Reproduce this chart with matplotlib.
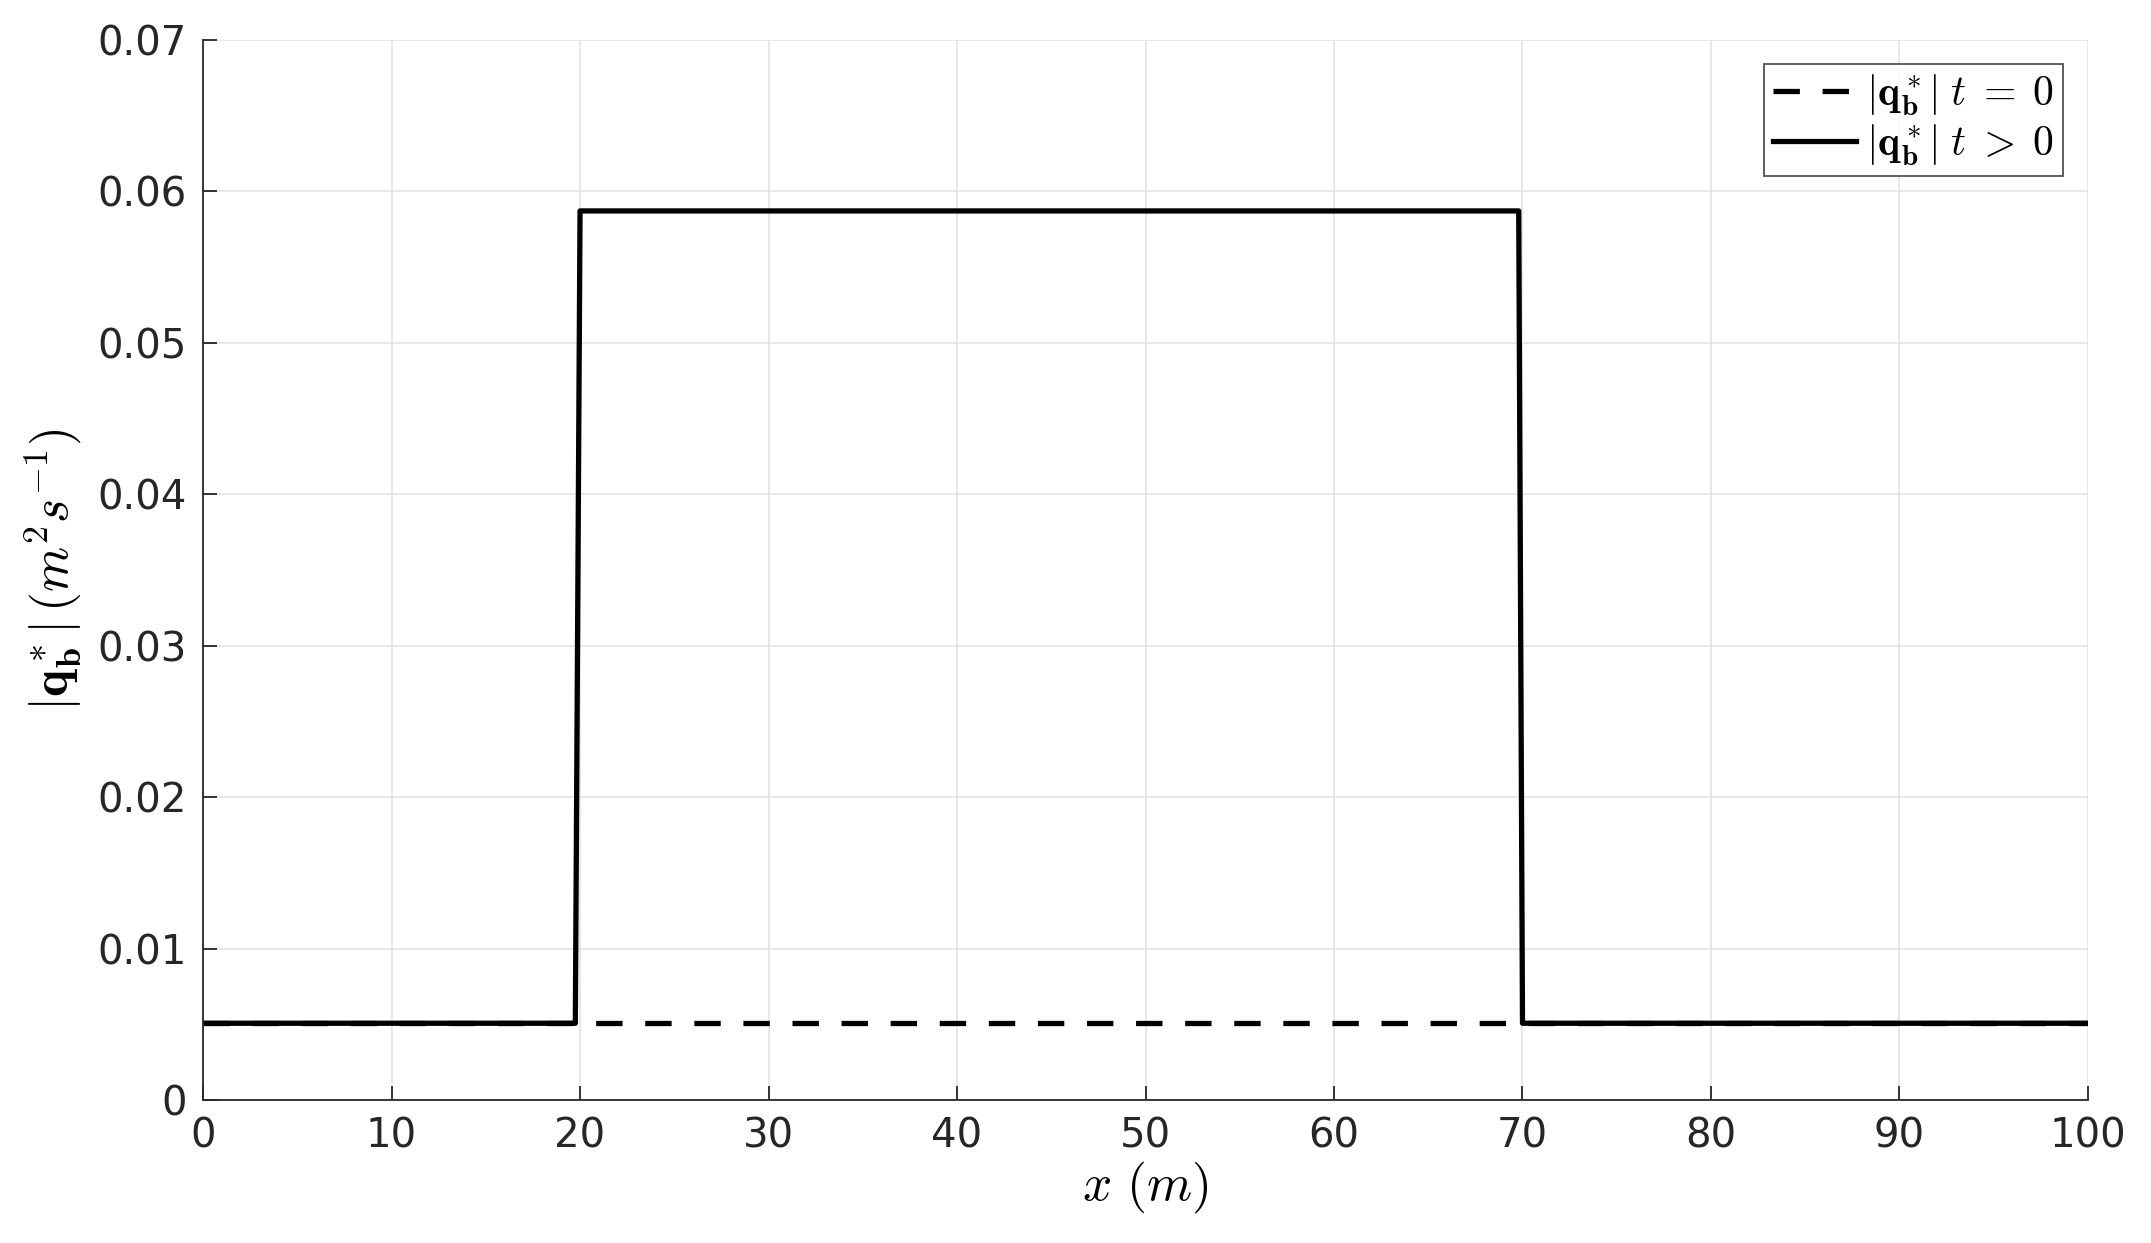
import matplotlib
matplotlib.use("Agg")
import matplotlib.pyplot as plt

# data
x_initial = [0, 100]
q_initial = [0.00507, 0.00507]

x_later = [0, 19.75, 20.0, 69.8, 70.0, 100]
q_later = [0.00507, 0.00507, 0.0587, 0.0587, 0.00507, 0.00507]

x_ticks = list(range(0, 101, 10))
y_ticks = [0, 0.01, 0.02, 0.03, 0.04, 0.05, 0.06, 0.07]
y_tick_labels = ["0", "0.01", "0.02", "0.03", "0.04", "0.05", "0.06", "0.07"]

plt.rcParams["mathtext.fontset"] = "cm"
plt.rcParams["font.family"] = ["DejaVu Sans"]

fig = plt.figure(figsize=(21.51, 12.43), dpi=100)
ax = fig.add_axes([0.0944, 0.115, 0.8763, 0.853])

ax.plot(x_initial, q_initial, color="black", lw=3.8, linestyle=(0, (5, 4.3)),
        label=r"$|\mathbf{q}^*_\mathbf{b}|\;t\;=\;0$")
ax.plot(x_later, q_later, color="black", lw=3.8,
        label=r"$|\mathbf{q}^*_\mathbf{b}|\;t\;>\;0$")

ax.set_xlim(0, 100)
ax.set_ylim(0, 0.07)
ax.set_xticks(x_ticks)
ax.set_yticks(y_ticks)
ax.set_yticklabels(y_tick_labels)

ax.grid(True, color="#e3e3e3", lw=1.2)
ax.set_axisbelow(True)
for side in ["top", "right"]:
    ax.spines[side].set_visible(False)
for side in ["left", "bottom"]:
    ax.spines[side].set_color("#262626")
    ax.spines[side].set_linewidth(1.3)
ax.tick_params(direction="in", length=10, width=1.3, colors="#262626",
               labelsize=29, pad=12)

ax.set_xlabel(r"$x\ (m)$", fontsize=37, labelpad=2)
ax.set_ylabel(r"$|\mathbf{q}^*_\mathbf{b}|\,(m^2 s^{-1})$", fontsize=37, labelpad=10)

leg = ax.legend(loc="upper right", fontsize=30, frameon=True, fancybox=False,
                handlelength=2.0, handletextpad=0.25, borderpad=0.2,
                labelspacing=0.1, borderaxespad=0.0,
                bbox_to_anchor=(0.9866, 0.977))
leg.get_frame().set_edgecolor("#262626")
leg.get_frame().set_linewidth(1.3)

fig.savefig("out.png", dpi=100)
